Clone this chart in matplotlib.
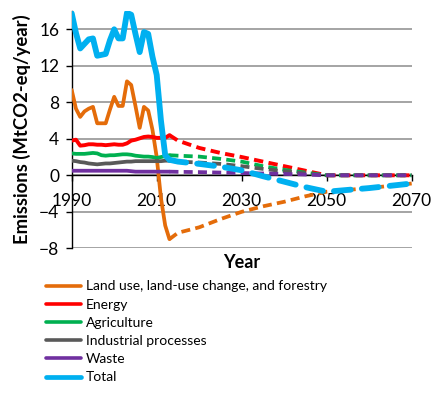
import matplotlib
matplotlib.use('Agg')
import matplotlib.pyplot as plt
from matplotlib.lines import Line2D

plt.rcParams['font.family'] = ['Lato', 'DejaVu Sans']

# ---------------- data ----------------
years_hist = [1990, 1991, 1992, 1993, 1994, 1995, 1996, 1997, 1998, 1999, 2000, 2001,
              2002, 2003, 2004, 2005, 2006, 2007, 2008, 2009, 2010, 2011, 2012, 2013]
years_proj = [2013, 2015, 2020, 2025, 2030, 2035, 2040, 2045, 2050, 2055, 2060, 2065, 2070]

lulucf_hist = [9.35, 7.3, 6.4, 7.0, 7.3, 7.5, 5.7, 5.7, 5.7, 7.2, 8.6, 7.6,
               7.6, 10.3, 9.9, 7.6, 5.2, 7.5, 7.1, 5.0, 2.0, -2.5, -5.5, -7.0]
energy_hist = [3.8, 3.9, 3.25, 3.3, 3.4, 3.4, 3.35, 3.35, 3.3, 3.35, 3.4, 3.35,
               3.35, 3.5, 3.8, 3.9, 4.05, 4.2, 4.25, 4.2, 4.1, 4.1, 4.1, 4.4]
agri_hist = [2.4, 2.35, 2.35, 2.35, 2.4, 2.45, 2.4, 2.2, 2.15, 2.2, 2.2, 2.25,
             2.3, 2.3, 2.25, 2.15, 2.1, 2.05, 2.05, 2.0, 1.9, 2.0, 2.1, 2.2]
indus_hist = [1.6, 1.55, 1.45, 1.4, 1.3, 1.25, 1.2, 1.25, 1.3, 1.3, 1.35, 1.4,
              1.45, 1.5, 1.5, 1.55, 1.55, 1.55, 1.55, 1.55, 1.55, 1.55, 1.6, 1.6]
waste_hist = [0.5, 0.5, 0.5, 0.5, 0.5, 0.5, 0.5, 0.5, 0.5, 0.5, 0.5, 0.5,
              0.5, 0.5, 0.45, 0.4, 0.4, 0.4, 0.4, 0.4, 0.4, 0.4, 0.4, 0.4]
total_hist = [17.75, 15.6, 13.9, 14.4, 14.9, 15.0, 13.1, 13.2, 13.3, 14.8, 16.0, 15.0,
              15.0, 17.8, 17.6, 15.5, 13.5, 15.7, 15.5, 13.0, 11.0, 6.0, 2.2, 1.7]

lulucf_proj = [-7.0, -6.3, -5.7, -4.8, -4.0, -3.4, -2.9, -2.3, -1.8, -1.6, -1.4, -1.15, -0.9]
energy_proj = [4.4, 3.8, 3.0, 2.45, 2.0, 1.5, 1.0, 0.5, 0.0, 0.0, 0.0, 0.0, 0.0]
agri_proj = [2.2, 2.15, 2.05, 1.8, 1.5, 1.0, 0.6, 0.3, 0.0, 0.0, 0.0, 0.0, 0.0]
indus_proj = [1.6, 1.5, 1.4, 1.25, 1.0, 0.7, 0.45, 0.2, 0.0, 0.0, 0.0, 0.0, 0.0]
waste_proj = [0.4, 0.38, 0.35, 0.3, 0.25, 0.2, 0.15, 0.08, 0.0, 0.0, 0.0, 0.0, 0.0]
total_proj = [1.7, 1.5, 1.25, 0.95, 0.55, -0.1, -0.7, -1.3, -1.8, -1.6, -1.4, -1.15, -0.9]

labels = ["Land use, land-use change, and forestry", "Energy", "Agriculture",
          "Industrial processes", "Waste", "Total"]
colors = ["#E46C0A", "#FF0000", "#00B050", "#595959", "#7030A0", "#00B0F0"]
hist = [lulucf_hist, energy_hist, agri_hist, indus_hist, waste_hist, total_hist]
proj = [lulucf_proj, energy_proj, agri_proj, indus_proj, waste_proj, total_proj]
widths = [2.7, 2.8, 2.7, 2.7, 2.7, 4.2]

xticks = [1990, 2010, 2030, 2050, 2070]
yticks = [-8, -4, 0, 4, 8, 12, 16]

# ---------------- figure ----------------
W, H = 438, 394
fig = plt.figure(figsize=(W / 100, H / 100), dpi=100)
x0, x1 = 71.7, 411.7
y_top, y_bot = 11.05, 248.3
ax = fig.add_axes([x0 / W, 1 - y_bot / H, (x1 - x0) / W, (y_bot - y_top) / H])

for i in range(len(labels)):
    ax.plot(years_hist, hist[i], color=colors[i], lw=widths[i],
            solid_joinstyle='round', solid_capstyle='round', zorder=3 + i)
    if i == 5:
        dashes = (2.9, 1.9)
        cap = 'round'
    else:
        dashes = (2.4, 1.4)
        cap = 'butt'
    ax.plot(years_proj, proj[i], color=colors[i], lw=widths[i],
            dashes=dashes, dash_capstyle=cap, dash_joinstyle='round', zorder=3 + i)

ax.set_xlim(1990, 2070)
ax.set_ylim(-8, 18)
ax.set_xticks(xticks)
ax.set_yticks(yticks)
ax.yaxis.grid(True, color='#8C8C8C', lw=1.1)
ax.set_axisbelow(True)

for s in ['top', 'right']:
    ax.spines[s].set_visible(False)
ax.spines['bottom'].set_position(('data', 0))
ax.spines['bottom'].set_linewidth(1.0)
ax.spines['left'].set_linewidth(1.0)
ax.spines['bottom'].set_zorder(2.5)

ax.tick_params(axis='x', direction='out', length=4, width=1, pad=8.5, labelsize=12.5)
ax.tick_params(axis='y', direction='out', length=4, width=1, pad=5, labelsize=12.5)

ax.set_ylabel('Emissions (MtCO2-eq/year)', fontweight='bold', fontsize=13.3, va='center')
ax.yaxis.set_label_coords(-0.147, 0.5)
ax.set_xlabel('Year', fontweight='bold', fontsize=13, va='center')
ax.xaxis.set_label_coords(0.5, (y_bot - 262) / (y_bot - y_top))

handles = [Line2D([0], [0], color=c, lw=(3.4 if i == 5 else 2.6), solid_capstyle='round')
           for i, c in enumerate(colors)]
fig.legend(handles, labels, loc='upper left', bbox_to_anchor=(46 / W, 1 - 280.5 / H),
           frameon=False, fontsize=10, handlelength=2.55, handletextpad=0.3,
           labelspacing=0.445, borderpad=0, borderaxespad=0)

fig.savefig('out.png', dpi=100)
